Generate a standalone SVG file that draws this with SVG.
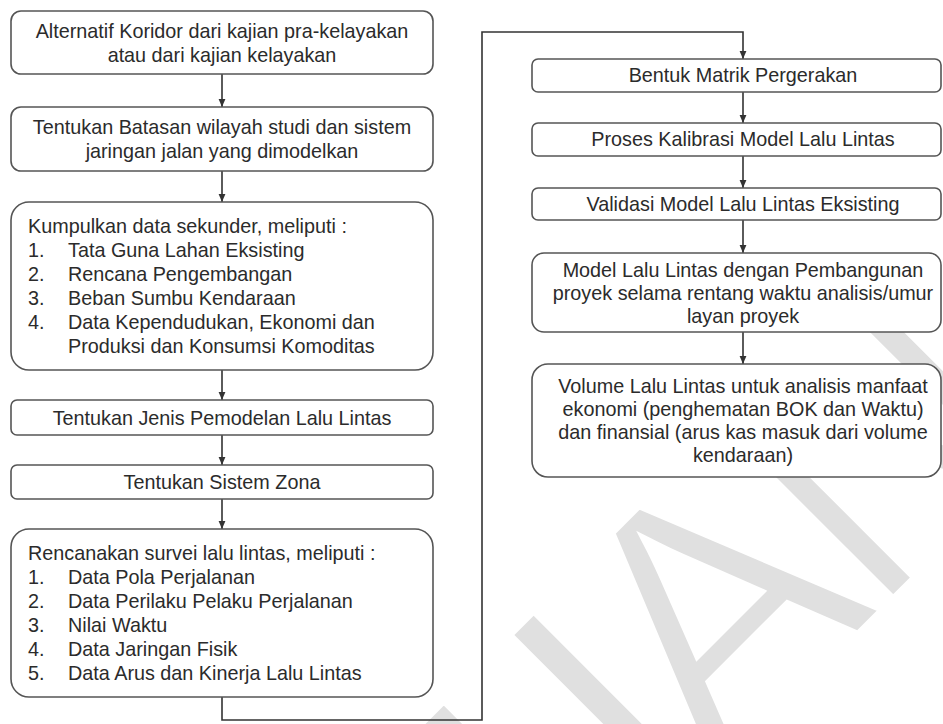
<svg xmlns="http://www.w3.org/2000/svg" width="943" height="724" viewBox="0 0 943 724">
<defs>
<style>
.box{fill:#fff;stroke:#555;stroke-width:1.6}
.t{font-family:"Liberation Sans",Arial,sans-serif;font-size:19.8px;fill:#2b2b2b}
.c{text-anchor:middle}
.ln{fill:none;stroke:#333;stroke-width:1.6}
.wm{font-family:"Liberation Sans",Arial,sans-serif;font-size:356px;fill:#e0e0e0;stroke:#fff;stroke-width:6}
</style>
<marker id="ah" markerUnits="userSpaceOnUse" markerWidth="8" markerHeight="8" refX="8" refY="4" orient="auto"><path d="M0,0.6 L8,4 L0,7.4 z" fill="#333"/></marker>
</defs>
<rect width="943" height="724" fill="#fff"/>
<g id="watermark" transform="translate(618,513) rotate(-45)">
<text class="wm" y="255" x="-319 -146 0 233.5" text-anchor="middle">JIAN</text>
</g>
<g id="connectors">
<path class="ln" d="M222,74 V107" marker-end="url(#ah)"/>
<path class="ln" d="M222,171 V202" marker-end="url(#ah)"/>
<path class="ln" d="M222,370 V400" marker-end="url(#ah)"/>
<path class="ln" d="M222,435 V465" marker-end="url(#ah)"/>
<path class="ln" d="M222,499 V529" marker-end="url(#ah)"/>
<path class="ln" d="M222,697 V720 H482 V32 H743 V59" marker-end="url(#ah)"/>
<path class="ln" d="M743,92 V123" marker-end="url(#ah)"/>
<path class="ln" d="M743,156 V188" marker-end="url(#ah)"/>
<path class="ln" d="M743,220 V253" marker-end="url(#ah)"/>
<path class="ln" d="M743,332 V364" marker-end="url(#ah)"/>
</g>
<g id="n1">
<rect class="box" x="11" y="11" width="422" height="63" rx="10"/>
<text class="t c" x="222" y="38">Alternatif Koridor dari kajian pra-kelayakan</text>
<text class="t c" x="222" y="62">atau dari kajian kelayakan</text>
</g>
<g id="n2">
<rect class="box" x="11" y="107" width="422" height="64" rx="10"/>
<text class="t c" x="222" y="134">Tentukan Batasan wilayah studi dan sistem</text>
<text class="t c" x="222" y="158">jaringan jalan yang dimodelkan</text>
</g>
<g id="n3">
<rect class="box" x="11" y="202" width="422" height="168" rx="18"/>
<text class="t" x="28" y="233">Kumpulkan data sekunder, meliputi :</text>
<text class="t" x="28" y="257">1.</text><text class="t" x="68" y="257">Tata Guna Lahan Eksisting</text>
<text class="t" x="28" y="281">2.</text><text class="t" x="68" y="281">Rencana Pengembangan</text>
<text class="t" x="28" y="305">3.</text><text class="t" x="68" y="305">Beban Sumbu Kendaraan</text>
<text class="t" x="28" y="329">4.</text><text class="t" x="68" y="329">Data Kependudukan, Ekonomi dan</text>
<text class="t" x="68" y="353">Produksi dan Konsumsi Komoditas</text>
</g>
<g id="n4">
<rect class="box" x="11" y="400" width="422" height="35" rx="6"/>
<text class="t c" x="222" y="425">Tentukan Jenis Pemodelan Lalu Lintas</text>
</g>
<g id="n5">
<rect class="box" x="11" y="465" width="422" height="34" rx="6"/>
<text class="t c" x="222" y="489">Tentukan Sistem Zona</text>
</g>
<g id="n6">
<rect class="box" x="11" y="529" width="422" height="168" rx="18"/>
<text class="t" x="28" y="560">Rencanakan survei lalu lintas, meliputi :</text>
<text class="t" x="28" y="584">1.</text><text class="t" x="68" y="584">Data Pola Perjalanan</text>
<text class="t" x="28" y="608">2.</text><text class="t" x="68" y="608">Data Perilaku Pelaku Perjalanan</text>
<text class="t" x="28" y="632">3.</text><text class="t" x="68" y="632">Nilai Waktu</text>
<text class="t" x="28" y="656">4.</text><text class="t" x="68" y="656">Data Jaringan Fisik</text>
<text class="t" x="28" y="680">5.</text><text class="t" x="68" y="680">Data Arus dan Kinerja Lalu Lintas</text>
</g>
<g id="n7">
<rect class="box" x="532" y="59" width="409" height="33" rx="6"/>
<text class="t c" x="743" y="82">Bentuk Matrik Pergerakan</text>
</g>
<g id="n8">
<rect class="box" x="532" y="123" width="409" height="33" rx="6"/>
<text class="t c" x="743" y="146">Proses Kalibrasi Model Lalu Lintas</text>
</g>
<g id="n9">
<rect class="box" x="532" y="188" width="409" height="32" rx="6"/>
<text class="t c" x="743" y="211">Validasi Model Lalu Lintas Eksisting</text>
</g>
<g id="n10">
<rect class="box" x="532" y="253" width="409" height="79" rx="12"/>
<text class="t c" x="743" y="277">Model Lalu Lintas dengan Pembangunan</text>
<text class="t c" x="743" y="300">proyek selama rentang waktu analisis/umur</text>
<text class="t c" x="743" y="323">layan proyek</text>
</g>
<g id="n11">
<rect class="box" x="532" y="364" width="409" height="113" rx="16"/>
<text class="t c" x="743" y="393">Volume Lalu Lintas untuk analisis manfaat</text>
<text class="t c" x="743" y="416">ekonomi (penghematan BOK dan Waktu)</text>
<text class="t c" x="743" y="439">dan finansial (arus kas masuk dari volume</text>
<text class="t c" x="743" y="462">kendaraan)</text>
</g>
</svg>
